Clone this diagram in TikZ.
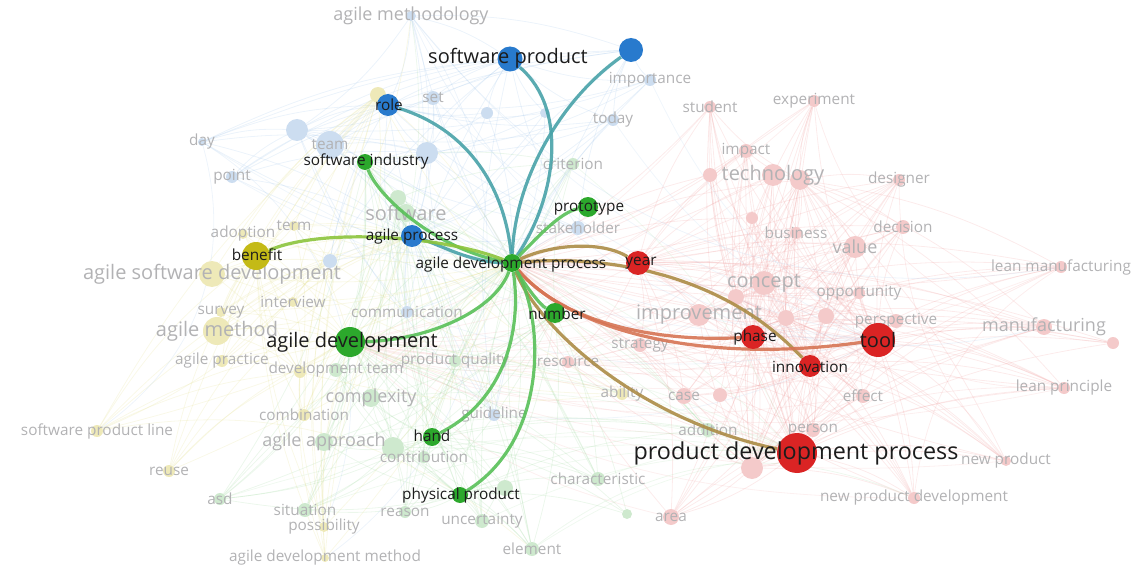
\documentclass[tikz,border=0pt]{standalone}
\usepackage{fontspec}
\setmainfont{Open Sans}
\usetikzlibrary{arrows}
\definecolor{vblue}{RGB}{40,122,205}
\definecolor{vgreen}{RGB}{44,168,44}
\definecolor{vred}{RGB}{218,36,36}
\definecolor{vyellow}{RGB}{196,186,22}
\definecolor{lblue}{RGB}{204,221,240}
\definecolor{lgreen}{RGB}{206,233,206}
\definecolor{lred}{RGB}{244,202,202}
\definecolor{lyellow}{RGB}{238,233,184}
\definecolor{ebluegreen}{RGB}{72,162,168}
\definecolor{egreen}{RGB}{88,192,88}
\definecolor{eolive}{RGB}{172,140,70}
\definecolor{eorange}{RGB}{214,116,84}
\definecolor{eyelgreen}{RGB}{140,196,60}
\definecolor{ftext}{RGB}{178,178,180}
\definecolor{dtext}{RGB}{28,28,28}
\pgfdeclarelayer{back}
\pgfdeclarelayer{hilite}
\pgfdeclarelayer{front}
\pgfsetlayers{back,main,hilite,front}

\begin{document}
\begin{tikzpicture}[x=0.75pt,y=0.75pt,yscale=-1,xscale=1,
  dot/.style={circle,inner sep=0pt,draw=none,minimum size=#1*0.75pt},
  fedge/.style={line width=0.6pt,draw opacity=0.2},
  hedge/.style={line width=2.4pt,draw opacity=0.9},
  ftxt/.style={text=ftext,inner sep=0.75pt},
  dtxt/.style={text=dtext,inner sep=0.75pt},
  tsmall/.style={font=\fontsize{11.5}{13}\selectfont},
  tmed/.style={font=\fontsize{13.5}{15}\selectfont},
  tbig/.style={font=\fontsize{15}{17}\selectfont},
  thuge/.style={font=\fontsize{17.5}{20}\selectfont}]
\path[use as bounding box] (0,0) rectangle (1140,567);

%Lists of the faded terms: name/x/y/size/font/label
\def\fblue{amet/411/16/10/tmed/agile methodology, imp/650/80/12/tsmall/importance, set/433/98/14/tsmall/set, tod/613/120/12/tsmall/today, day/202/142/8/tsmall/day, team/330/145/28/tsmall/team, pnt/232/177/12/tsmall/point, stk/578/228/14/tsmall/stakeholder, comm/407/312/12/tsmall/communication, guide/494/415/12/tsmall/guideline}
\def\fgreen{crit/573/164/12/tsmall/criterion, sw/406/213/18/tbig/software, dteam/336/370/14/tsmall/development team, pq/455/361/12/tsmall/product quality, cplx/371/398/18/tmed/complexity, aapp/324/442/18/tmed/agile approach, contr/424/457/12/tsmall/contribution, char/598/479/14/tsmall/characteristic, asd/220/499/12/tsmall/asd, sit/305/510/14/tsmall/situation, reas/405/512/12/tsmall/reason, unc/482/521/14/tsmall/uncertainty, elem/532/549/14/tsmall/element, addi/708/430/14/tsmall/addition}
\def\fyellow{term/294/226/10/tsmall/term, adopt/243/234/10/tsmall/adoption, asdv/212/274/26/tbig/agile software development, intv/293/302/10/tsmall/interview, surv/221/312/10/tsmall/survey, amth/217/331/28/tbig/agile method, aprac/222/361/12/tsmall/agile practice, comb/304/415/12/tsmall/combination, spl/97/431/12/tsmall/software product line, reuse/169/471/12/tsmall/reuse, poss/324/527/10/tsmall/possibility, adm/325/558/8/tsmall/agile development method, abil/622/394/12/tsmall/ability}
\def\fred{stud/710/107/12/tsmall/student, expe/814/101/12/tsmall/experiment, impa/746/151/14/tsmall/impact, tech/773/175/22/tbig/technology, desi/899/180/12/tsmall/designer, busi/796/233/12/tsmall/business, deci/903/227/14/tsmall/decision, valu/855/247/22/tmed/value, lman/1061/267/12/tsmall/lean manufacturing, conc/764/283/24/tbig/concept, oppo/859/293/12/tsmall/opportunity, impr/699/315/22/tbig/improvement, persp/896/321/14/tsmall/perspective, manu/1044/327/16/tmed/manufacturing, reso/568/362/12/tsmall/resource, stra/640/345/14/tsmall/strategy, case/684/396/16/tsmall/case, effe/863/396/14/tsmall/effect, lpri/1064/388/12/tsmall/lean principle, pers/813/430/14/tsmall/person, newp/1006/461/10/tsmall/new product, npd/914/498/12/tsmall/new product development, area/671/517/16/tsmall/area}
%unlabelled dots: name/x/y/size
\def\dblue{b1/297/130/22, b2/427/153/22, b3/487/113/12, b4/330/261/14, b5/545/113/10}
\def\dgreen{g1/393/448/22, g2/505/488/16, g3/627/514/10, g4/398/198/16}
\def\dyellow{y1/378/95/16, y2/300/372/12}
\def\dred{r1/710/175/14, r2/800/180/20, r3/752/218/12, r4/736/297/16, r5/786/318/16, r6/826/316/16, r7/752/468/22, r8/1113/343/12, r9/720/395/14}

%Shape: faded dots and their labels
\foreach \n/\x/\y/\sz in \dblue {\node[dot=\sz,fill=lblue] (\n) at (\x,\y) {};}
\foreach \n/\x/\y/\sz in \dgreen {\node[dot=\sz,fill=lgreen] (\n) at (\x,\y) {};}
\foreach \n/\x/\y/\sz in \dyellow {\node[dot=\sz,fill=lyellow] (\n) at (\x,\y) {};}
\foreach \n/\x/\y/\sz in \dred {\node[dot=\sz,fill=lred] (\n) at (\x,\y) {};}
\foreach \n/\x/\y/\sz/\fs/\lab in \fblue {\node[dot=\sz,fill=lblue] (\n) at (\x,\y) {};}
\foreach \n/\x/\y/\sz/\fs/\lab in \fgreen {\node[dot=\sz,fill=lgreen] (\n) at (\x,\y) {};}
\foreach \n/\x/\y/\sz/\fs/\lab in \fyellow {\node[dot=\sz,fill=lyellow] (\n) at (\x,\y) {};}
\foreach \n/\x/\y/\sz/\fs/\lab in \fred {\node[dot=\sz,fill=lred] (\n) at (\x,\y) {};}
% Text Node
\foreach \n/\x/\y/\sz/\fs/\lab in \fblue {\node[ftxt,\fs] (t-\n) at (\x,\y) {\lab};}
\foreach \n/\x/\y/\sz/\fs/\lab in \fgreen {\node[ftxt,\fs] (t-\n) at (\x,\y) {\lab};}
\foreach \n/\x/\y/\sz/\fs/\lab in \fyellow {\node[ftxt,\fs] (t-\n) at (\x,\y) {\lab};}
\foreach \n/\x/\y/\sz/\fs/\lab in \fred {\node[ftxt,\fs] (t-\n) at (\x,\y) {\lab};}

%Shape: highlighted terms
\begin{pgfonlayer}{front}
\node[dot=25,fill=vblue] (sp) at (510,59) {};
\node[dot=24,fill=vblue] (bn) at (631,50) {};
\node[dot=22,fill=vblue] (role) at (388,105) {};
\node[dot=16,fill=vgreen] (sind) at (365,162) {};
\node[dot=20,fill=vgreen] (proto) at (588,207) {};
\node[dot=22,fill=vblue] (aproc) at (412,236) {};
\node[dot=28,fill=vyellow] (benefit) at (256,256) {};
\node[dot=18,fill=vgreen] (adp) at (512,263) {};
\node[dot=24,fill=vred] (year) at (638,263) {};
\node[dot=30,fill=vgreen] (adev) at (350,342) {};
\node[dot=20,fill=vgreen] (number) at (555,313) {};
\node[dot=24,fill=vred] (phase) at (753,337) {};
\node[dot=34,fill=vred] (tool) at (878,340) {};
\node[dot=22,fill=vred] (innov) at (810,366) {};
\node[dot=18,fill=vgreen] (hand) at (432,437) {};
\node[dot=40,fill=vred] (pdp) at (797,453) {};
\node[dot=16,fill=vgreen] (phys) at (460,495) {};
% Text Node
\node[dtxt,tbig] (t-sp) at (508,58) {software product};
\node[dtxt,tsmall] (t-role) at (389,105) {role};
\node[dtxt,tsmall] (t-sind) at (366,161) {software industry};
\node[dtxt,tsmall] (t-proto) at (589,208) {prototype};
\node[dtxt,tsmall] (t-aproc) at (412,237) {agile process};
\node[dtxt,tsmall] (t-benefit) at (257,255) {benefit};
\node[dtxt,tsmall] (t-adp) at (511,265) {agile development process};
\node[dtxt,tsmall] (t-year) at (641,263) {year};
\node[dtxt,tbig] (t-adev) at (352,342) {agile development};
\node[dtxt,tsmall] (t-number) at (557,314) {number};
\node[dtxt,tsmall] (t-phase) at (755,338) {phase};
\node[dtxt,tbig] (t-tool) at (878,340) {tool};
\node[dtxt,tsmall] (t-innov) at (810,367) {innovation};
\node[dtxt,tsmall] (t-hand) at (432,436) {hand};
\node[dtxt,thuge] (t-pdp) at (796,453) {product development process};
\node[dtxt,tsmall] (t-phys) at (461,496) {physical product};
\end{pgfonlayer}

%Faded links
\begin{pgfonlayer}{back}
\foreach \n/\x/\y/\sz/\fs/\lab in \fred {\foreach \h in {pdp,tool,innov,year,phase,r2,r4,r5,r7} {\draw[fedge,vred!45] (\n) to[bend left=10] (\h);} \draw[fedge,vred!45] (\n) to[bend right=8] (adp); \draw[fedge,vred!35] (\n) to[bend right=15] (adev);}
\foreach \n/\x/\y/\sz in \dred {\foreach \h in {pdp,tool,innov,phase,adp} {\draw[fedge,vred!45] (\n) to[bend left=10] (\h);}}
\foreach \n/\x/\y/\sz/\fs/\lab in \fblue {\foreach \h in {sp,role,aproc,bn,b1,b2} {\draw[fedge,vblue!45] (\n) to[bend right=10] (\h);} \draw[fedge,vblue!45] (\n) to[bend left=8] (adp); \draw[fedge,vblue!35] (\n) to[bend left=15] (tool);}
\foreach \n/\x/\y/\sz in \dblue {\foreach \h in {sp,role,aproc,adp,sind} {\draw[fedge,vblue!45] (\n) to[bend right=10] (\h);}}
\foreach \n/\x/\y/\sz/\fs/\lab in \fgreen {\foreach \h in {adev,hand,phys,number,sind,g1,g4} {\draw[fedge,vgreen!45] (\n) to[bend left=10] (\h);} \draw[fedge,vgreen!45] (\n) to[bend right=8] (adp); \draw[fedge,vgreen!35] (\n) to[bend right=12] (pdp);}
\foreach \n/\x/\y/\sz in \dgreen {\foreach \h in {adev,hand,phys,adp} {\draw[fedge,vgreen!45] (\n) to[bend left=10] (\h);}}
\foreach \n/\x/\y/\sz/\fs/\lab in \fyellow {\foreach \h in {benefit,adev,aproc,y1,y2,b4} {\draw[fedge,vyellow!50] (\n) to[bend right=10] (\h);} \draw[fedge,vyellow!50] (\n) to[bend left=8] (adp);}
\foreach \n/\x/\y/\sz in \dyellow {\foreach \h in {benefit,adev,adp} {\draw[fedge,vyellow!50] (\n) to[bend right=10] (\h);}}
%long arcs
\draw[fedge,vblue!40] (amet) to[bend right=45] (adm);
\draw[fedge,vblue!40] (amet) to[bend left=30] (lman);
\draw[fedge,vblue!40] (amet) to[bend left=40] (manu);
\draw[fedge,vblue!40] (day) to[bend right=35] (spl);
\draw[fedge,vblue!40] (day) to[bend right=40] (poss);
\draw[fedge,vyellow!50] (spl) to[bend right=25] (elem);
\draw[fedge,vyellow!50] (spl) to[bend left=30] (amet);
\draw[fedge,vred!40] (lman) to[bend left=25] (npd);
\draw[fedge,vred!40] (lpri) to[bend left=20] (area);
\draw[fedge,vred!40] (expe) to[bend left=35] (r8);
\draw[fedge,vred!40] (desi) to[bend left=20] (newp);
\draw[fedge,vred!40] (stud) to[bend left=40] (lpri);
\draw[fedge,vgreen!40] (amet) to[bend right=30] (asd);
\draw[fedge,vgreen!40] (elem) to[bend right=30] (npd);
\end{pgfonlayer}

%Highlighted links
\begin{pgfonlayer}{hilite}
\draw[hedge,ebluegreen] (adp) .. controls (555,200) and (570,110) .. (sp);
\draw[hedge,ebluegreen] (adp) .. controls (515,180) and (560,100) .. (bn);
\draw[hedge,ebluegreen] (adp) .. controls (505,190) and (470,130) .. (role);
\draw[hedge,ebluegreen] (adp) .. controls (470,262) and (440,245) .. (aproc);
\draw[hedge,egreen] (adp) .. controls (440,250) and (380,200) .. (sind);
\draw[hedge,eyelgreen] (adp) .. controls (440,235) and (320,228) .. (benefit);
\draw[hedge,egreen] (adp) .. controls (535,240) and (560,212) .. (proto);
\draw[hedge,eolive] (adp) .. controls (550,245) and (600,240) .. (year);
\draw[hedge,eolive] (adp) .. controls (600,255) and (720,270) .. (innov);
\draw[hedge,eorange] (adp) .. controls (570,330) and (700,365) .. (tool);
\draw[hedge,eorange] (adp) .. controls (565,325) and (660,342) .. (phase);
\draw[hedge,egreen] (adp) .. controls (525,285) and (540,305) .. (number);
\draw[hedge,eolive] (adp) .. controls (540,330) and (640,420) .. (pdp);
\draw[hedge,egreen] (adp) .. controls (495,310) and (430,340) .. (adev);
\draw[hedge,egreen] (adp) .. controls (522,330) and (505,400) .. (hand);
\draw[hedge,egreen] (adp) .. controls (545,320) and (548,440) .. (phys);
\end{pgfonlayer}

\end{tikzpicture}
\end{document}
